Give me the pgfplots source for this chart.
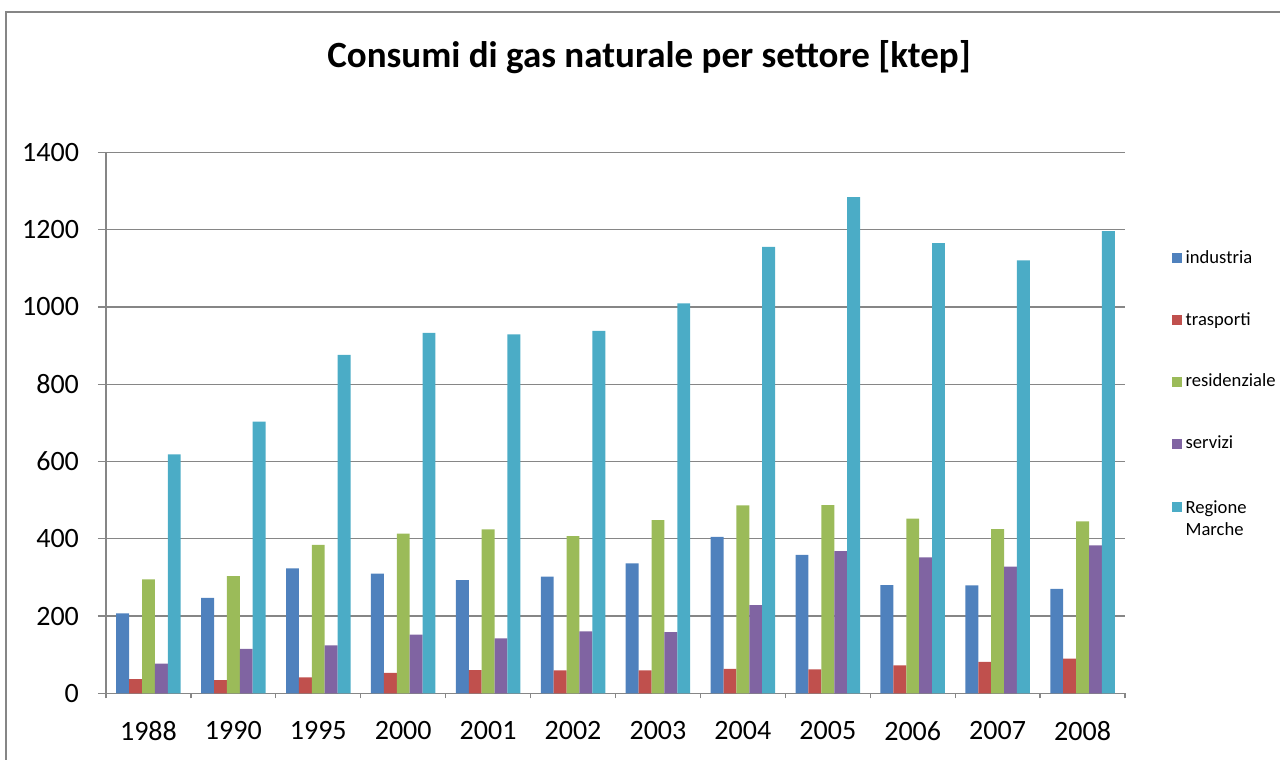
\documentclass[border=0pt]{standalone}
\usepackage{fontspec}
\setmainfont{Carlito}
\usepackage{pgfplots}
\pgfplotsset{compat=1.18}
\definecolor{cInd}{HTML}{4F81BD}
\definecolor{cTra}{HTML}{C0504D}
\definecolor{cRes}{HTML}{9BBB59}
\definecolor{cSer}{HTML}{8064A2}
\definecolor{cReg}{HTML}{4BACC6}
\definecolor{gridc}{HTML}{868686}
\begin{document}
\begin{tikzpicture}
\useasboundingbox (0,0) rectangle (640pt,380pt);
\draw[gridc, line width=0.7pt] (3pt,0) -- (3pt,374pt) -- (640pt,374pt);
\begin{axis}[
  at={(53pt,33.35pt)}, anchor=south west,
  scale only axis, width=509.5pt, height=270.5pt,
  ybar=0pt, bar width=0.152,
  xmin=-0.5, xmax=11.5, ymin=0, ymax=1400,
  xtick={0,...,11},
  xticklabels={1988,1990,1995,2000,2001,2002,2003,2004,2005,2006,2007,2008},
  minor xtick={-0.5,0.5,...,11.5},
  ytick={0,200,...,1400},
  ymajorgrids,
  major grid style={gridc, line width=0.65pt},
  axis line style={gridc, line width=0.65pt},
  every tick/.style={gridc, line width=0.65pt},
  tick align=outside,
  xtick pos=left, ytick pos=left,
  major tick length=4pt, minor tick length=2.5pt,
  major x tick style={draw=none},
  axis x line*=bottom, axis y line*=left,
  tick label style={font=\fontsize{14}{16}\selectfont, text=black},
  yticklabel style={xshift=-6pt},
  xticklabel style={yshift=-6.5pt},
  /pgf/number format/assume math mode=true,
  /pgf/number format/1000 sep={},
  legend style={at={(1.0454,0.827)}, anchor=north west, draw=none, fill=none,
    inner sep=0pt, row sep=19pt, font=\fontsize{9.3}{11}\selectfont},
  legend cell align=left,
  legend image code/.code={\fill[#1] (0pt,-2.5pt) rectangle (5pt,2.5pt);},
]
\addplot[fill=cInd, draw=none, bar shift=-0.304] coordinates {(0,207) (1,247) (2,323) (3,310) (4,293) (5,302) (6,336) (7,405) (8,358) (9,280) (10,279) (11,270)};
\addlegendentry{industria}
\addplot[fill=cTra, draw=none, bar shift=-0.152] coordinates {(0,37) (1,34) (2,41) (3,53) (4,60) (5,59) (6,59) (7,63) (8,62) (9,72) (10,81) (11,90)};
\addlegendentry{trasporti}
\addplot[fill=cRes, draw=none, bar shift=0] coordinates {(0,295) (1,303) (2,384) (3,413) (4,424) (5,407) (6,448) (7,486) (8,487) (9,452) (10,425) (11,445)};
\addlegendentry{residenziale}
\addplot[fill=cSer, draw=none, bar shift=0.152] coordinates {(0,77) (1,115) (2,124) (3,152) (4,142) (5,160) (6,158) (7,228) (8,368) (9,352) (10,328) (11,383)};
\addlegendentry{servizi}
\addplot[fill=cReg, draw=none, bar shift=0.304] coordinates {(0,618) (1,703) (2,876) (3,933) (4,929) (5,938) (6,1009) (7,1155) (8,1284) (9,1165) (10,1120) (11,1196)};
\addlegendentry{\begin{tabular}[t]{@{}l@{}}Regione\\Marche\end{tabular}}
\end{axis}
\node[font=\bfseries\fontsize{18.5}{22}\selectfont, anchor=base] at (324.5pt,346.25pt) {Consumi di gas naturale per settore [ktep]};
\end{tikzpicture}
\end{document}
